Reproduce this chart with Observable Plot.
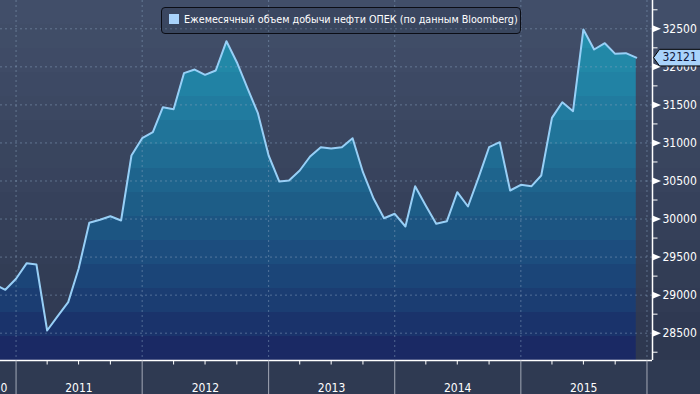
<!DOCTYPE html>
<html>
<head>
<meta charset="utf-8">
<script src="https://cdn.jsdelivr.net/npm/d3@7"></script>
<script src="https://cdn.jsdelivr.net/npm/@observablehq/plot@0.6"></script>
<style>
  html, body { margin: 0; padding: 0; background: #2f3a52; }
  #wrap { position: relative; width: 700px; height: 394px; overflow: hidden; }
  #legend { position: absolute; left: 161px; top: 7px; width: 360px; height: 27px; box-sizing: border-box;
            border: 1px solid #0b0d15; border-radius: 4px; background: rgba(30,38,58,0.18); }
  #legend .sw { position: absolute; left: 7px; top: 6px; width: 10px; height: 10px; background: #a9d3fb; }
  #legend .lt { position: absolute; left: 22px; top: 5px; color: #ffffff; white-space: nowrap;
                font-family: "DejaVu Sans Condensed", "DejaVu Sans", sans-serif; font-stretch: condensed;
                font-size: 10.7px; line-height: 13px; }
</style>
</head>
<body>
<div id="wrap"></div>
<script>
// ---------- data ----------
const seriesName = "Ежемесячный объем добычи нефти ОПЕК (по данным Bloomberg)";
const firstMonth = "2010-11";
// monthly OPEC crude output, thousand barrels/day (Nov 2010 .. Dec 2015)
const output = [
  29140, 29070,
  29215, 29420, 29403, 28535, 28720, 28908, 29346, 29951, 29990, 30037, 29981, 30835,
  31062, 31141, 31470, 31443, 31917, 31965, 31895, 31952, 32337, 32061, 31716, 31391,
  30835, 30493, 30507, 30638, 30822, 30944, 30927, 30944, 31062, 30616, 30266, 30011,
  30069, 29902, 30432, 30175, 29937, 29972, 30353, 30165, 30550, 30944, 31010, 30375,
  30450, 30432, 30572, 31330, 31535, 31417, 32491, 32228, 32311, 32171, 32180, 32121
];
const lastValue = 32121;
const yTicks = [28500, 29000, 29500, 30000, 30500, 31000, 31500, 32000, 32500];
const yMinorTicks = [28250, 28750, 29250, 29750, 30250, 30750, 31250, 31750, 32250, 32750];
const yearLabels = ["2010", "2011", "2012", "2013", "2014", "2015"];
const yearLabelDates = ["2010-10-28", "2011-07-02", "2012-07-02", "2013-07-02", "2014-07-02", "2015-07-02"];
const yearStartDates = ["2011-01-01", "2012-01-01", "2013-01-01", "2014-01-01", "2015-01-01", "2016-01-01"];
const quarterDates = ["2011-04-01","2011-07-01","2011-10-01","2012-04-01","2012-07-01","2012-10-01",
  "2013-04-01","2013-07-01","2013-10-01","2014-04-01","2014-07-01","2014-10-01",
  "2015-04-01","2015-07-01","2015-10-01"];
const xDomain = [new Date("2010-11-17"), new Date("2016-01-17")];
const yDomain = [28141, 32872];

// ---------- build ----------
const start = d3.utcParse("%Y-%m")(firstMonth);
const dates = d3.utcMonth.range(start, d3.utcMonth.offset(start, output.length));
const data = output.map((v, i) => ({date: dates[i], value: v}));
const yearStarts = yearStartDates.map(d => new Date(d));
const quarters = quarterDates.map(d => new Date(d));
const labels = yearLabels.map((t, i) => ({text: t, date: new Date(yearLabelDates[i])}));

const FONT = '"DejaVu Sans Condensed", "DejaVu Sans", sans-serif';
const W = 700, H = 394, PLOT_H = 360, BAND = 24;

// band colour scales
const areaColor = d3.scaleLinear()
  .domain([0, 50, 100, 150, 200, 250, 300, 340, 360])
  .range(["#2597b3", "#228ba9", "#217ea1", "#1f6e94", "#1d5e88", "#1c4e7e", "#1b3d72", "#1a2c66", "#1a2460"])
  .interpolate(d3.interpolateRgb);
const bgColor = d3.scaleLinear()
  .domain([0, 360])
  .range(["#424f6a", "#2d374f"])
  .interpolate(d3.interpolateRgb);

// background (CSS stepped gradient)
const bgStops = [];
for (let y0 = 0; y0 < PLOT_H; y0 += BAND) {
  const c = bgColor(y0 + BAND / 2);
  bgStops.push(`${c} ${y0}px`, `${c} ${Math.min(y0 + BAND, PLOT_H)}px`);
}
bgStops.push(`#2f3a52 ${PLOT_H}px`, `#2f3a52 ${H}px`);
const wrap = document.getElementById("wrap");
wrap.style.background = `linear-gradient(to bottom, ${bgStops.join(", ")})`;

// custom symbols
const hLine = len => ({draw(ctx) { ctx.moveTo(0, 0); ctx.lineTo(len, 0); }});
const vLine = len => ({draw(ctx) { ctx.moveTo(0, 0); ctx.lineTo(0, len); }});
const triRight = {draw(ctx) { ctx.moveTo(0, -3.5); ctx.lineTo(8.5, 0); ctx.lineTo(0, 3.5); ctx.closePath(); }};
const tag = {draw(ctx) {
  ctx.moveTo(0, 0); ctx.lineTo(6, -8.3); ctx.lineTo(60, -8.3); ctx.lineTo(60, 8.3); ctx.lineTo(6, 8.3); ctx.closePath();
}};

const gridStyle = {stroke: "#8aa4c0", strokeOpacity: 0.5, strokeDasharray: "2,3", strokeWidth: 1};

const svg = Plot.plot({
  width: W, height: H,
  marginTop: 0, marginRight: 48, marginBottom: 34, marginLeft: 0,
  style: {background: "transparent", overflow: "visible", fontFamily: FONT, fontStretch: "condensed"},
  x: {type: "utc", domain: xDomain, axis: null},
  y: {domain: yDomain, axis: null},
  marks: [
    Plot.areaY(data, {x: "date", y1: yDomain[0], y2: "value", fill: "url(#areaGrad)", clip: true}),
    Plot.ruleY(yTicks, {y: d => d, ...gridStyle}),
    Plot.ruleX(yearStarts, {x: d => d, ...gridStyle}),
    Plot.lineY(data, {x: "date", y: "value", stroke: "#98cff6", strokeWidth: 2, clip: true}),
    Plot.ruleY([yDomain[0]], {stroke: "#ffffff", strokeWidth: 1.5}),
    Plot.ruleX([xDomain[1]], {stroke: "#ffffff", strokeWidth: 1.5}),
    Plot.dot(yMinorTicks, {y: d => d, frameAnchor: "right", symbol: hLine(5), r: 3, fill: "none", stroke: "#ffffff", strokeWidth: 1}),
    Plot.dot(yTicks, {y: d => d, frameAnchor: "right", symbol: triRight, r: 3, fill: "#ffffff", stroke: "none"}),
    Plot.text(yTicks, {y: d => d, text: d => String(d), frameAnchor: "right", dx: 10, textAnchor: "start",
      fill: "#ffffff", fontSize: 12}),
    Plot.dot(yearStarts, {x: d => d, frameAnchor: "bottom", symbol: vLine(34), r: 3, fill: "none", stroke: "#a3a9b6", strokeWidth: 1}),
    Plot.dot(quarters, {x: d => d, frameAnchor: "bottom", symbol: vLine(4), r: 3, fill: "none", stroke: "#ffffff", strokeWidth: 1}),
    Plot.text(labels, {x: "date", text: "text", frameAnchor: "bottom", dy: 31, lineAnchor: "bottom",
      fill: "#ffffff", fontSize: 12}),
    Plot.dot([lastValue], {y: d => d, frameAnchor: "right", dx: 1, symbol: tag, r: 3, fill: "#a9d3fb", stroke: "#000000", strokeWidth: 1}),
    Plot.text([lastValue], {y: d => d, text: d => String(d), frameAnchor: "right", dx: 10, textAnchor: "start",
      fill: "#10163a", fontSize: 12})
  ]
});

// stepped gradient for the area
const defs = d3.select(svg).insert("defs", ":first-child");
const grad = defs.append("linearGradient")
  .attr("id", "areaGrad").attr("gradientUnits", "userSpaceOnUse")
  .attr("x1", 0).attr("y1", 0).attr("x2", 0).attr("y2", PLOT_H);
for (let y0 = 0; y0 < PLOT_H; y0 += BAND) {
  const c = areaColor(y0 + BAND / 2);
  grad.append("stop").attr("offset", y0 / PLOT_H).attr("stop-color", c);
  grad.append("stop").attr("offset", Math.min(y0 + BAND, PLOT_H) / PLOT_H).attr("stop-color", c);
}

wrap.appendChild(svg);

// legend
const legend = document.createElement("div");
legend.id = "legend";
legend.innerHTML = `<div class="sw"></div><div class="lt"></div>`;
legend.querySelector(".lt").textContent = seriesName;
wrap.appendChild(legend);
</script>
</body>
</html>
